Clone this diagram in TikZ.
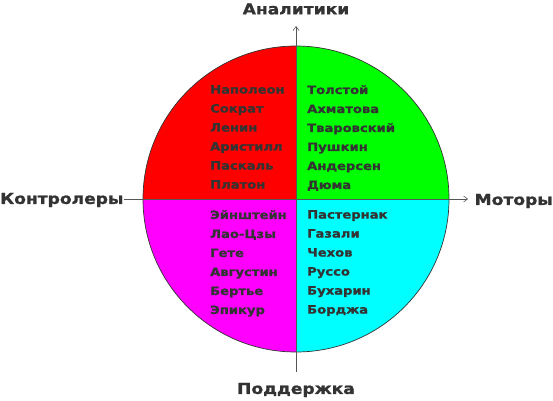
\documentclass[tikz,border=0pt]{standalone}
\usepackage{fontspec}
\setmainfont{DejaVu Sans}
\newfontfamily\heavyfont{DejaVu Sans Bold}[FakeBold=1.2, FakeStretch=1.14]
\usepackage{xcolor}
\usetikzlibrary{positioning, arrows.meta, calc}
\definecolor{inkgray}{HTML}{333333}
\definecolor{axisgray}{HTML}{555555}
\definecolor{qred}{HTML}{FF0000}
\definecolor{qgreen}{HTML}{00FF00}
\definecolor{qmagenta}{HTML}{FF00FF}
\definecolor{qcyan}{HTML}{00FFFF}

\tikzset{
  names/.style={anchor=north west, inner sep=0pt, align=left, text=inkgray,
    font=\heavyfont\fontsize{11.5}{19}\selectfont},
  axislabel/.style={inner sep=0pt, text=inkgray,
    font=\heavyfont\fontsize{15}{18}\selectfont},
  axisline/.style={draw=axisgray, line width=0.6pt},
}

\begin{document}
\begin{tikzpicture}[x=1pt, y=1pt]
    \useasboundingbox (0,0) rectangle (553,400);
    \coordinate (c) at (296,201);
    % quadrants
    \fill[qred] (c) -- ++(0,153) arc[start angle=90, end angle=180, radius=153pt] -- cycle;
    \fill[qgreen] (c) -- ++(153,0) arc[start angle=0, end angle=90, radius=153pt] -- cycle;
    \fill[qmagenta] (c) -- ++(-153,0) arc[start angle=180, end angle=270, radius=153pt] -- cycle;
    \fill[qcyan] (c) -- ++(0,-153) arc[start angle=270, end angle=360, radius=153pt] -- cycle;
    \draw[inkgray, line width=0.7pt] (c) circle[radius=153pt];

    % axes
    \coordinate (top) at (296,374);
    \coordinate (bottom) at (296,28);
    \coordinate (left) at (124,201);
    \coordinate (right) at (468,201);
    \draw[axisline, -{Straight Barb[length=4pt, width=6pt]}] (bottom) -- (top);
    \draw[axisline, -{Straight Barb[length=4pt, width=6pt]}] (left) -- (right);

    \node[axislabel] (analitiki) at (296,391) {Аналитики};
    \node[axislabel, anchor=west] (kontrolery) at (0,200) {Контролеры};
    \node[axislabel, anchor=east] (motory) at (553,199) {Моторы};
    \node[axislabel] (podderzhka) at (296,10) {Поддержка};

    % names
    \node[names] (nw) at (210,315) {%
      Наполеон\\ Сократ\\ Ленин\\ Аристилл\\ Паскаль\\ Платон};
    \node[names] (ne) at (307,315) {%
      Толстой\\ Ахматова\\ Тваровский\\ Пушкин\\ Андерсен\\ Дюма};
    \node[names] (sw) at (210,190) {%
      Эйнштейн\\ Лао-Цзы\\ Гете\\ Августин\\ Бертье\\ Эпикур};
    \node[names] (se) at (307,190) {%
      Пастернак\\ Газали\\ Чехов\\ Руссо\\ Бухарин\\ Борджа};
  \end{tikzpicture}
\end{document}
